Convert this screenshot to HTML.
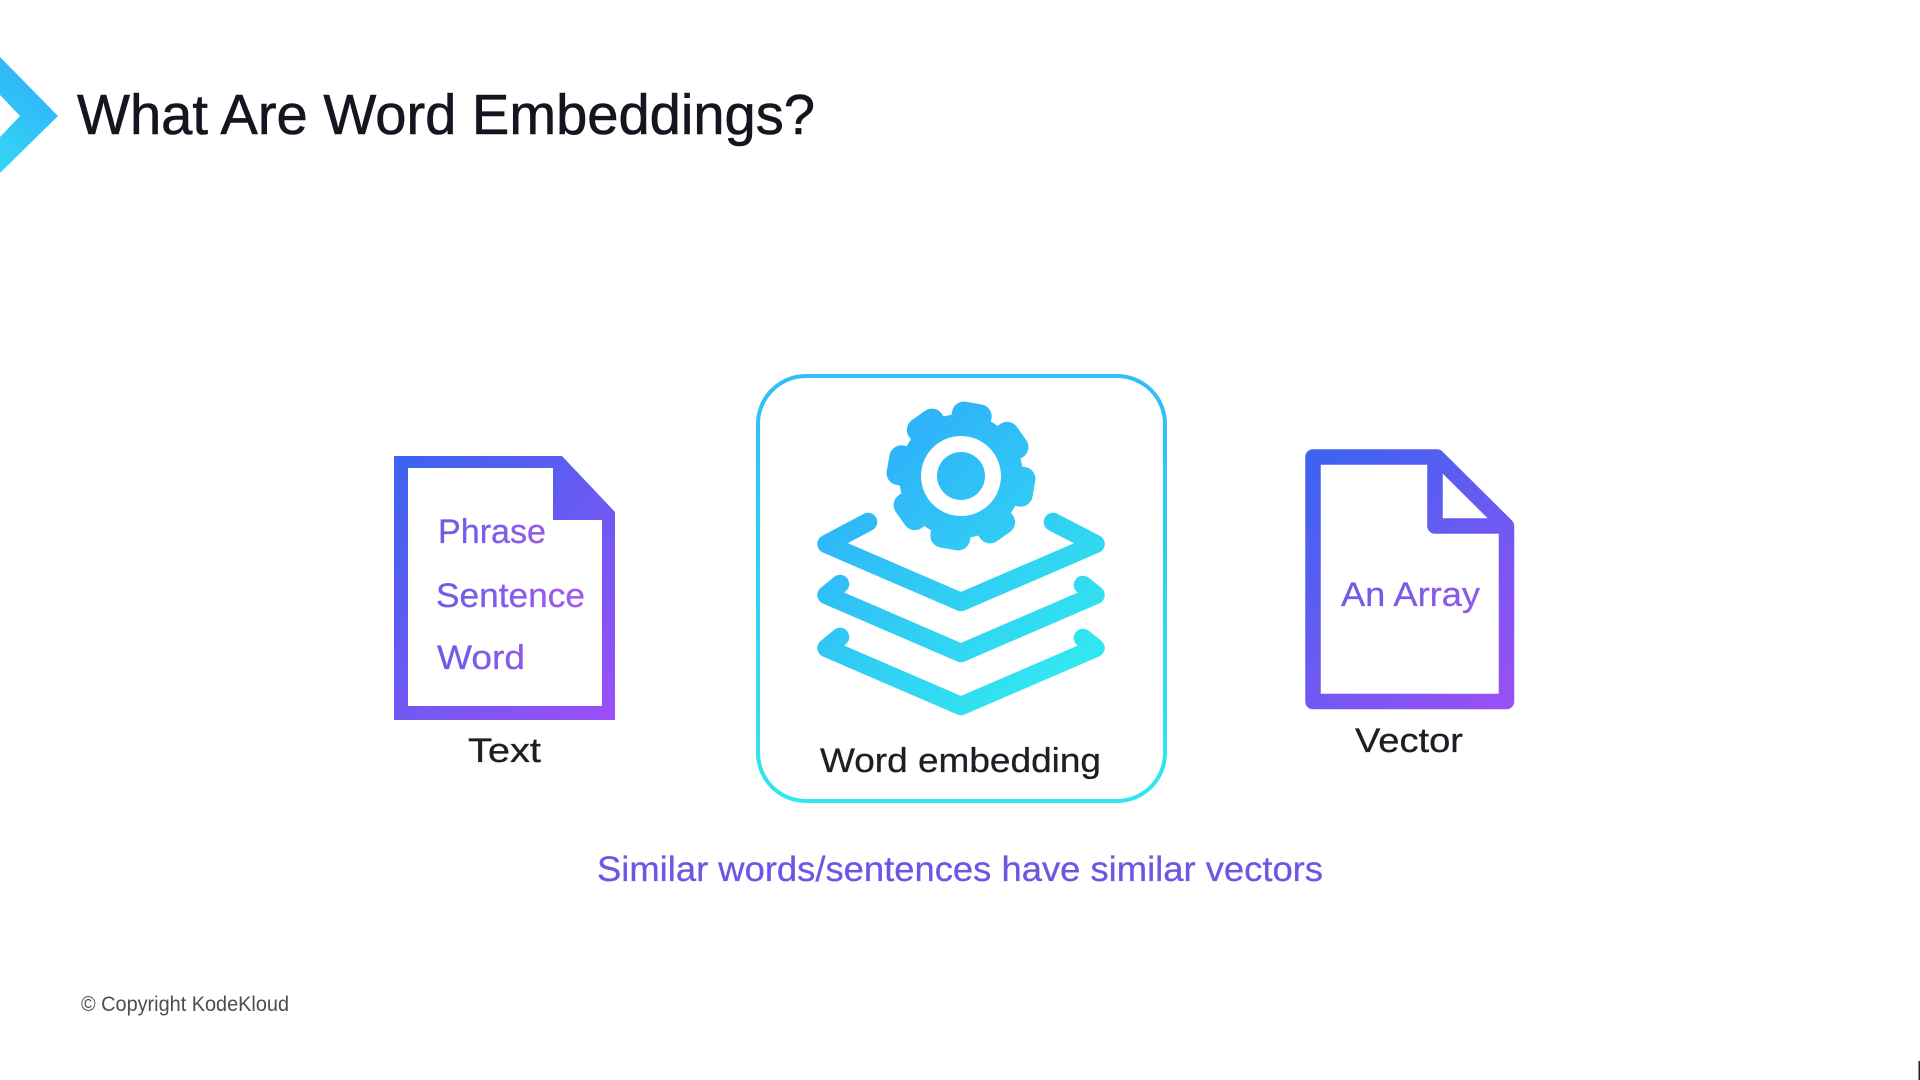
<!DOCTYPE html>
<html lang="en">
<head>
<meta charset="utf-8">
<title>What Are Word Embeddings?</title>
<style>
html,body{margin:0;padding:0;background:#fff;width:1920px;height:1080px;overflow:hidden}
svg{display:block}
text{font-family:"Liberation Sans",sans-serif}
</style>
</head>
<body>
<svg width="1920" height="1080" viewBox="0 0 1920 1080" xmlns="http://www.w3.org/2000/svg">
<defs>
<linearGradient id="chev" gradientUnits="userSpaceOnUse" x1="0" y1="170" x2="57" y2="90">
<stop offset="0" stop-color="#35d6f4"/><stop offset="1" stop-color="#2fb4fa"/>
</linearGradient>
<linearGradient id="doc1" gradientUnits="userSpaceOnUse" x1="394" y1="480" x2="615" y2="720">
<stop offset="0" stop-color="#3f62f0"/><stop offset="1" stop-color="#9c50f6"/>
</linearGradient>
<linearGradient id="doc2" gradientUnits="userSpaceOnUse" x1="1305" y1="480" x2="1514" y2="709">
<stop offset="0" stop-color="#3f62f0"/><stop offset="1" stop-color="#9c50f6"/>
</linearGradient>
<linearGradient id="box" gradientUnits="userSpaceOnUse" x1="960" y1="374" x2="960" y2="803">
<stop offset="0" stop-color="#30bdf8"/><stop offset="1" stop-color="#33e6ee"/>
</linearGradient>
<linearGradient id="icon" gradientUnits="userSpaceOnUse" x1="880" y1="470" x2="1070" y2="700">
<stop offset="0" stop-color="#2fb4f9"/><stop offset="1" stop-color="#32ebee"/>
</linearGradient>
<linearGradient id="txt1" gradientUnits="userSpaceOnUse" x1="436" y1="0" x2="590" y2="0">
<stop offset="0" stop-color="#6a5ce8"/><stop offset="1" stop-color="#a85aea"/>
</linearGradient>
<linearGradient id="txt2" gradientUnits="userSpaceOnUse" x1="1341" y1="580" x2="1480" y2="610">
<stop offset="0" stop-color="#6a5ce6"/><stop offset="1" stop-color="#945ae9"/>
</linearGradient>
<clipPath id="gear">
<rect x="-20" y="-74" width="40" height="40" rx="12" transform="translate(961 476) rotate(10)"/>
<rect x="-20" y="-74" width="40" height="40" rx="12" transform="translate(961 476) rotate(55)"/>
<rect x="-20" y="-74" width="40" height="40" rx="12" transform="translate(961 476) rotate(100)"/>
<rect x="-20" y="-74" width="40" height="40" rx="12" transform="translate(961 476) rotate(145)"/>
<rect x="-20" y="-74" width="40" height="40" rx="12" transform="translate(961 476) rotate(190)"/>
<rect x="-20" y="-74" width="40" height="40" rx="12" transform="translate(961 476) rotate(235)"/>
<rect x="-20" y="-74" width="40" height="40" rx="12" transform="translate(961 476) rotate(280)"/>
<rect x="-20" y="-74" width="40" height="40" rx="12" transform="translate(961 476) rotate(325)"/>
<circle cx="961" cy="476" r="62"/>
</clipPath>
</defs>

<polygon points="0,57 58,116 0,173 0,137 20,116 0,95" fill="url(#chev)"/>
<text x="77" y="134" font-size="57" fill="#14151f" stroke="#14151f" stroke-width=".6" textLength="738" lengthAdjust="spacingAndGlyphs">What Are Word Embeddings?</text>

<path fill-rule="evenodd" fill="url(#doc1)" d="M394 456H562L615 512V720H394ZM408 468V706H602V520H553V468Z"/>
<g font-size="34" fill="url(#txt1)" stroke="url(#txt1)" stroke-width=".3">
<text x="438" y="543" textLength="108" lengthAdjust="spacingAndGlyphs">Phrase</text>
<text x="436" y="607" textLength="149" lengthAdjust="spacingAndGlyphs">Sentence</text>
<text x="437" y="669" textLength="88" lengthAdjust="spacingAndGlyphs">Word</text>
</g>
<text x="468" y="762" font-size="34" fill="#1e1e24" stroke="#1e1e24" stroke-width=".3" textLength="73" lengthAdjust="spacingAndGlyphs">Text</text>

<rect x="758" y="376" width="407" height="425" rx="48" ry="48" fill="#fff" stroke="url(#box)" stroke-width="4"/>

<rect x="880" y="395" width="162" height="162" fill="url(#icon)" clip-path="url(#gear)"/>
<circle cx="961" cy="476" r="40" fill="#fff"/>
<circle cx="961" cy="476" r="24" fill="url(#icon)"/>

<g fill="none" stroke="url(#icon)" stroke-width="18.500" stroke-linecap="round" stroke-linejoin="round">
<polyline points="868,522 826.500,544 961,602 1095.500,544 1053,522"/>
<polyline points="840,584 826.500,595 961,653 1095.500,595 1083,585"/>
<polyline points="840,637 826.500,648 961,706 1095.500,648 1083,638"/>
</g>
<text x="820" y="772" font-size="34" fill="#1e1e24" stroke="#1e1e24" stroke-width=".3" textLength="281" lengthAdjust="spacingAndGlyphs">Word embedding</text>

<path d="M1313 457H1437L1506.500 526V701.500H1313Z" fill="#fff" stroke="url(#doc2)" stroke-width="15.500" stroke-linejoin="round"/>
<path d="M1435 457V526H1506" fill="none" stroke="url(#doc2)" stroke-width="15.500" stroke-linejoin="round"/>
<text x="1341" y="606" font-size="34" fill="url(#txt2)" stroke="url(#txt2)" stroke-width=".3" textLength="139" lengthAdjust="spacingAndGlyphs">An Array</text>
<text x="1355" y="752" font-size="34" fill="#1e1e24" stroke="#1e1e24" stroke-width=".3" textLength="108" lengthAdjust="spacingAndGlyphs">Vector</text>

<text x="597" y="881" font-size="35" fill="#6a58e4" stroke="#6a58e4" stroke-width=".3" textLength="726" lengthAdjust="spacingAndGlyphs">Similar words/sentences have similar vectors</text>

<text x="81" y="1011" font-size="21" fill="#4e4e4e" textLength="208" lengthAdjust="spacingAndGlyphs">© Copyright KodeKloud</text>

<rect x="1918.500" y="1061" width="1.500" height="19" fill="#222"/>
</svg>
</body>
</html>
